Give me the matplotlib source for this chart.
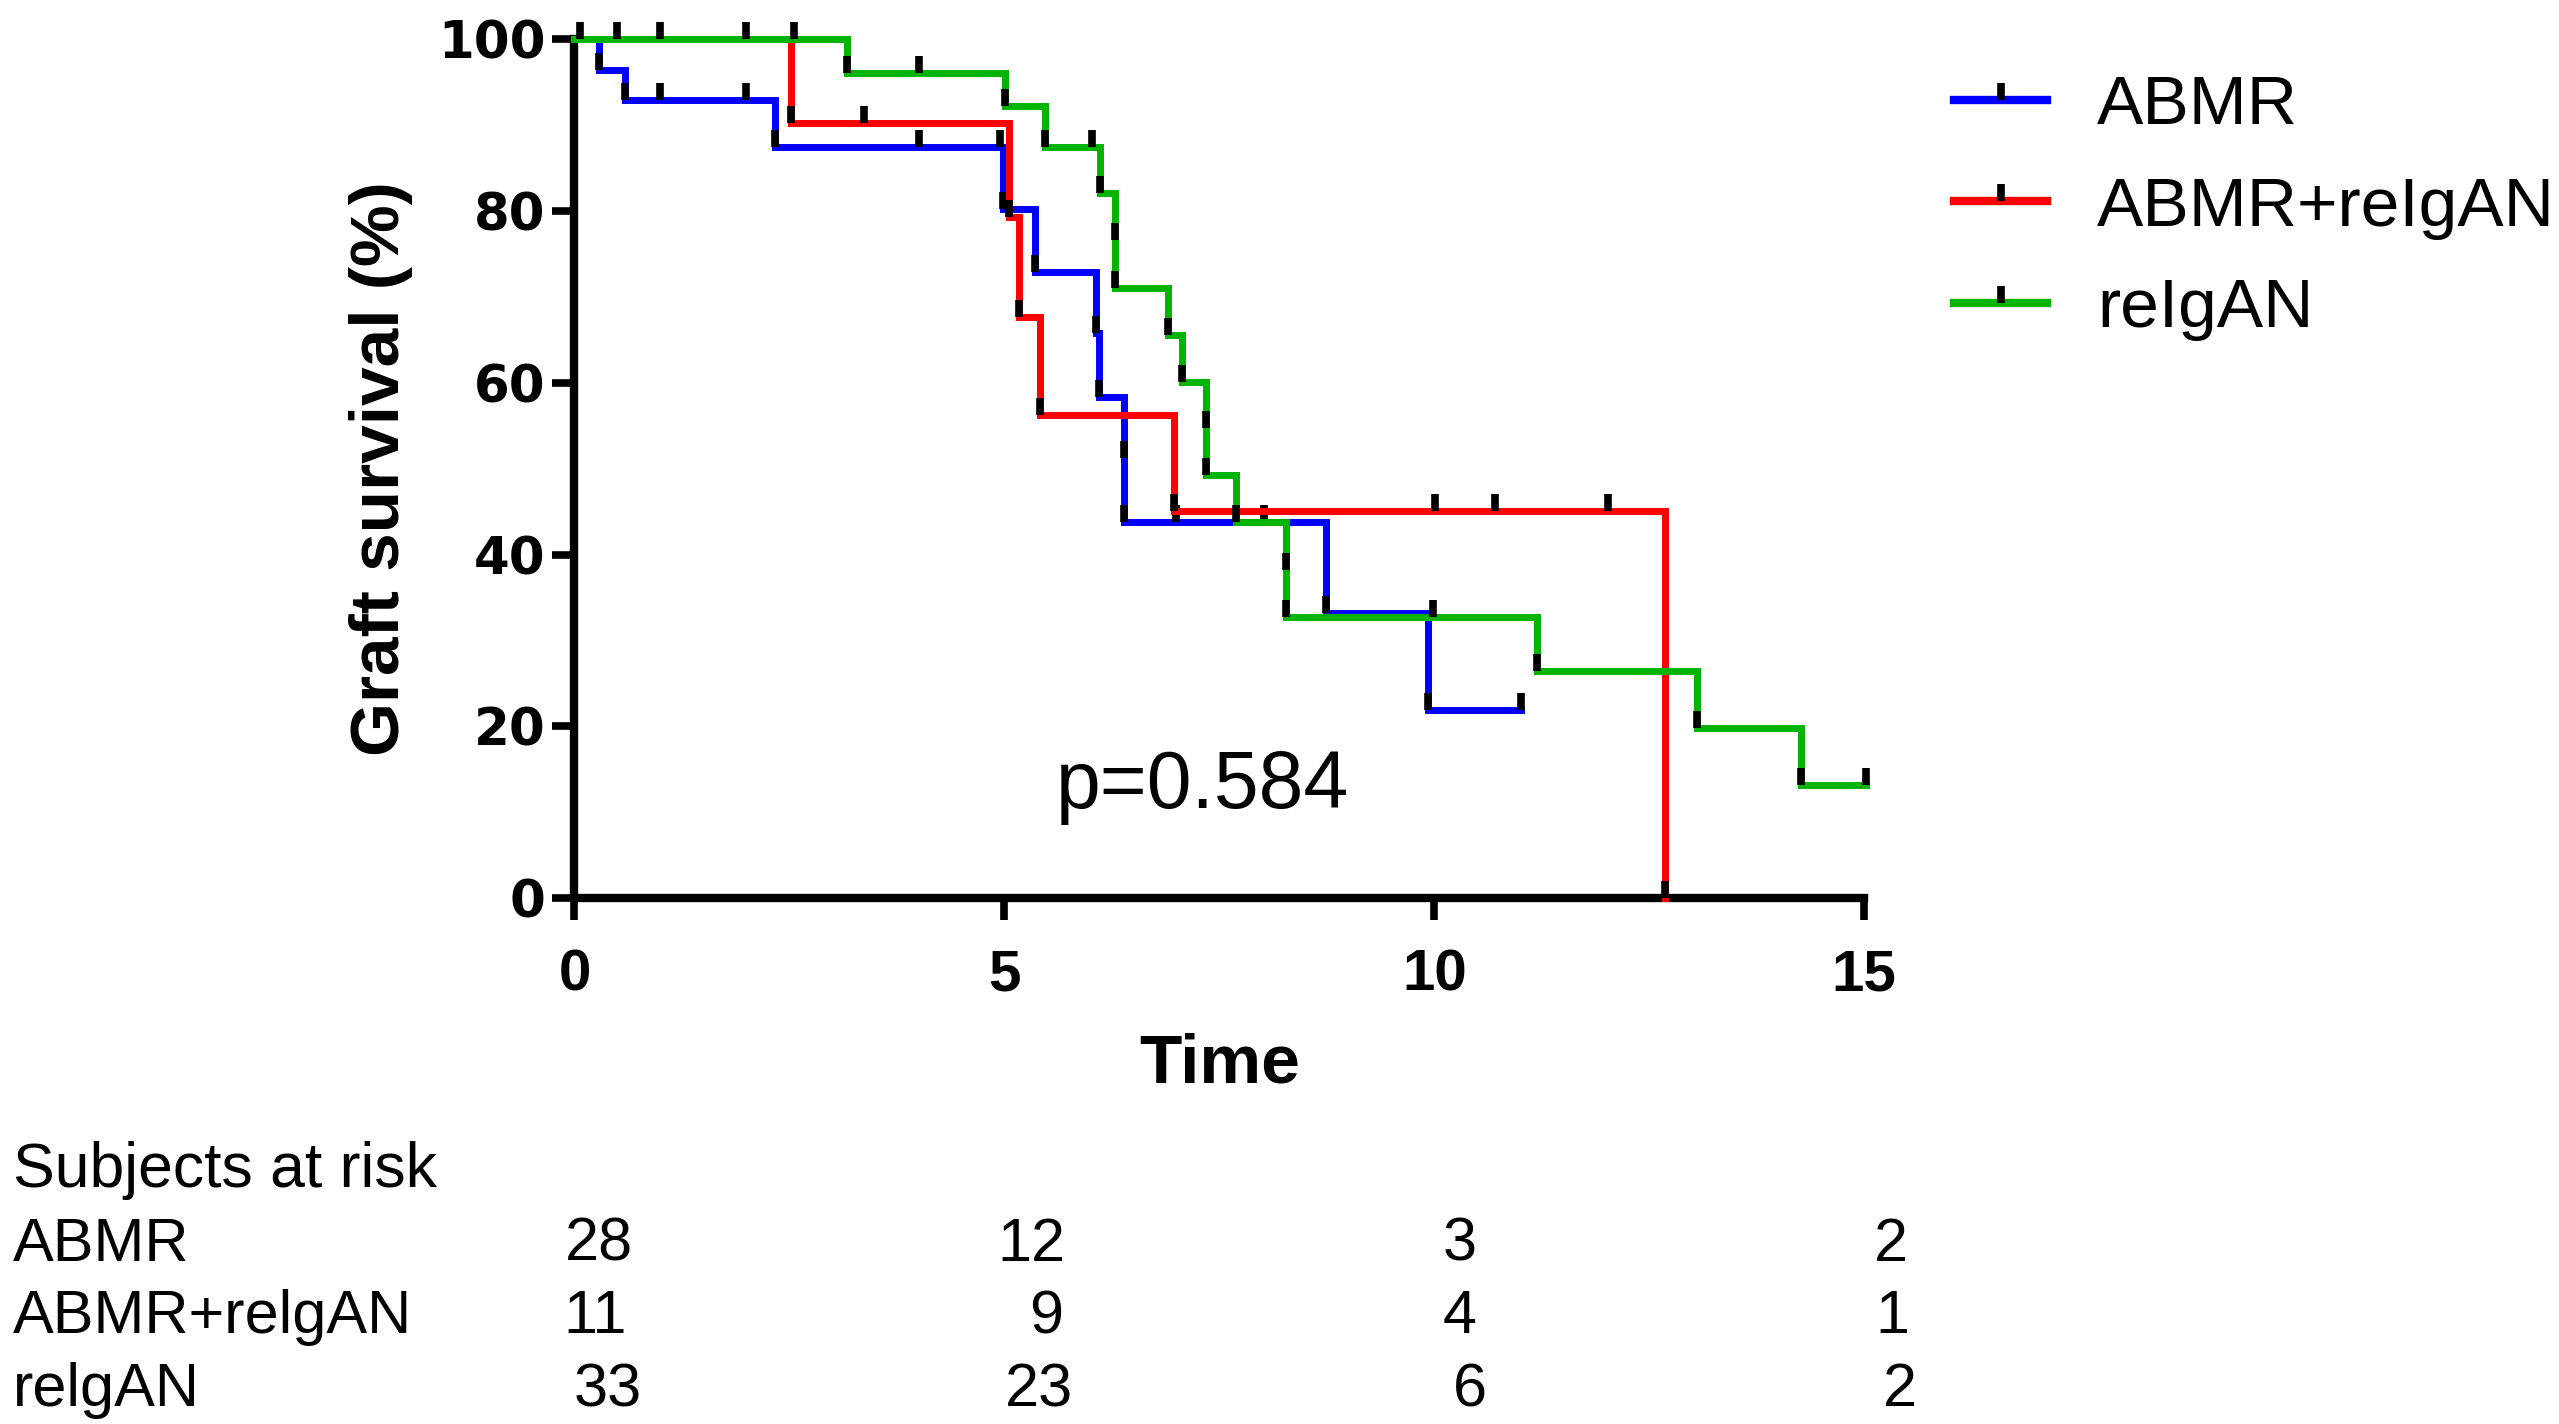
import numpy as np
import matplotlib
matplotlib.use("Agg")
import matplotlib.pyplot as plt
from matplotlib.path import Path
from matplotlib.lines import Line2D
from matplotlib.legend_handler import HandlerTuple
from matplotlib import transforms

plt.rcParams['font.family'] = ['Liberation Sans', 'DejaVu Sans']

# ---- data ----
groups = ['ABMR', 'ABMR+reIgAN', 'reIgAN']
table_names = ['ABMR', 'ABMR+relgAN', 'relgAN']
colors = ['#0000ff', '#ff0000', '#00b400']

# ABMR
abmr_t = [0.29, 0.59, 2.33, 4.98, 5.35, 6.06, 6.10, 6.39, 6.39, 8.74, 9.93]
abmr_s = [96.4, 92.9, 87.5, 80.3, 72.9, 65.8, 58.4, 51.2, 43.8, 33.2, 21.9]
abmr_end = 11.01
abmr_cens_t = [1.0, 1.99, 4.01, 4.95, 7.0, 8.02, 11.01]
abmr_cens_s = [92.9, 92.9, 87.5, 87.5, 43.8, 43.8, 21.9]

# ABMR+reIgAN
mix_t = [2.52, 5.05, 5.17, 5.41, 6.97, 12.68]
mix_s = [90.2, 79.3, 67.7, 56.3, 45.1, 0.0]
mix_end = 12.68
mix_cens_t = [3.37, 10.01, 10.71, 12.02]
mix_cens_s = [90.2, 45.1, 45.1, 45.1]

# reIgAN
rei_t = [3.17, 5.01, 5.47, 6.11, 6.29, 6.29, 6.90, 7.07, 7.34, 7.34, 7.69,
         8.27, 8.27, 11.20, 13.05, 14.27]
rei_s = [96.1, 92.2, 87.5, 82.1, 76.6, 71.1, 65.6, 60.1, 54.7, 49.3, 43.8,
         38.2, 32.8, 26.4, 19.8, 13.2]
rei_end = 15.02
rei_cens_t = [0.06, 0.50, 1.0, 1.99, 2.55, 4.01, 6.02, 9.99, 15.02]
rei_cens_s = [100, 100, 100, 100, 100, 96.1, 87.5, 32.8, 13.2]

risk_times = [0, 5, 10, 15]
risk_abmr = [28, 12, 3, 2]
risk_mix = [11, 9, 4, 1]
risk_rei = [33, 23, 6, 2]
p_text = 'p=0.584'

# ---- figure ----
fig = plt.figure(figsize=(25.59, 14.24), dpi=100)
ax = fig.add_axes([0.2245, 0.3692, 0.5040, 0.6032])

tick = Path([(0, 0), (0, 1)])  # censor / event mark pointing up

curves = [
    (abmr_t, abmr_s, abmr_end, abmr_cens_t, abmr_cens_s),
    (mix_t, mix_s, mix_end, mix_cens_t, mix_cens_s),
    (rei_t, rei_s, rei_end, rei_cens_t, rei_cens_s),
]
z = 3
for (t, s, end, ct, cs), col in zip(curves, colors):
    tt = [0] + t + [end]
    ss = [100] + s + [s[-1]]
    ax.step(tt, ss, where='post', color=col, lw=5, solid_joinstyle='miter',
            clip_on=False, zorder=z)
    # black marks at each drop and at censored times
    mx = t + ct
    my = s + cs
    ax.plot(mx, my, ls='none', marker=tick, ms=24, mew=5.5, mec='black',
            clip_on=False, zorder=z + 0.5)
    z += 1

ax.set_xlim(0, 15)
ax.set_ylim(0, 100)
ax.set_xticks([0, 5, 10, 15])
ax.set_yticks([0, 20, 40, 60, 80, 100])
for sp in ['top', 'right']:
    ax.spines[sp].set_visible(False)
for sp in ['left', 'bottom']:
    ax.spines[sp].set_linewidth(6)
    ax.spines[sp].set_capstyle('projecting')
ax.tick_params(axis='both', length=16, width=5.5, direction='out')
ax.tick_params(axis='x', pad=20)
ax.tick_params(axis='y', pad=5)

for lb in ax.get_xticklabels():
    lb.set_fontsize(42)
    lb.set_fontweight('bold')
for lb in ax.get_yticklabels():
    lb.set_fontfamily('DejaVu Sans')
    lb.set_fontweight('bold')
    lb.set_fontsize(37)

ax.set_xlabel('Time', fontsize=50, fontweight='bold', labelpad=22)
ax.set_ylabel('Graft survival (%)', fontsize=50, fontweight='bold', labelpad=18)

ax.text(5.6, 10.5, p_text, fontsize=58, ha='left', va='baseline')

# legend: coloured line with a small black tick above it
handles = []
for col in colors:
    ln = Line2D([], [], color=col, lw=6)
    mk = Line2D([], [], ls='none', marker=tick, ms=24, mew=5.5, mec='black')
    handles.append((ln, mk))
ax.legend(handles, groups, handler_map={tuple: HandlerTuple(ndivide=1, pad=0)},
          loc='upper left', bbox_to_anchor=(0.7636, 0.948),
          bbox_transform=fig.transFigure, frameon=False, fontsize=50,
          handlelength=1.34, handletextpad=0.72, labelspacing=0.54,
          borderpad=0, borderaxespad=0, numpoints=1)

# subjects at risk table
row_y = [0.1664, 0.1145, 0.0639, 0.0126]
fig.text(0.0051, row_y[0], 'Subjects at risk', fontsize=45, va='baseline')
blend = transforms.blended_transform_factory(ax.transData, fig.transFigure)
risk_rows = [risk_abmr, risk_mix, risk_rei]
risk_x = [[0.28, 5.31, 10.29, 15.31],
          [0.24, 5.49, 10.29, 15.33],
          [0.39, 5.40, 10.41, 15.41]]
for name, counts, xs, y in zip(table_names, risk_rows, risk_x, row_y[1:]):
    fig.text(0.0051, y, name, fontsize=44, va='baseline')
    for n, x in zip(counts, xs):
        fig.text(x, y, str(n), fontsize=44, ha='center', va='baseline',
                 transform=blend)

fig.savefig('out.png', dpi=100)
